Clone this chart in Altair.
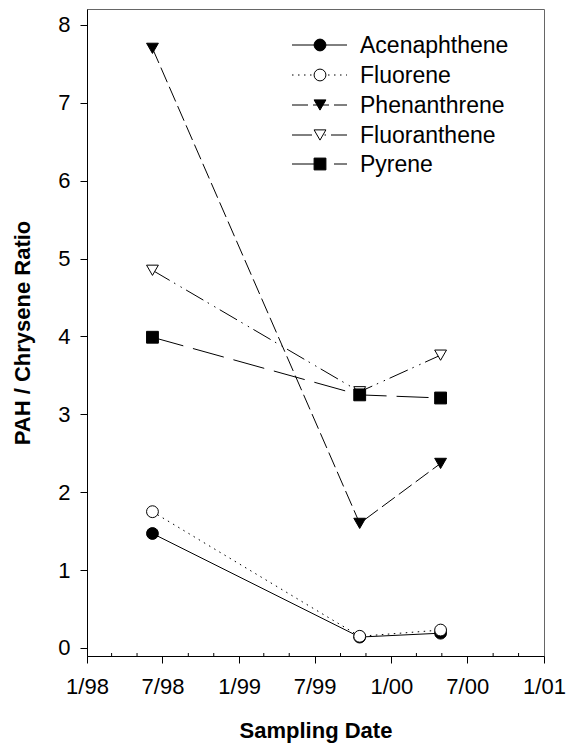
import altair as alt
import pandas as pd

# Sampling dates (x) and PAH / chrysene ratios per compound (y)
sample_dates = ["1998-06-07", "1999-10-17", "2000-04-28"]
acenaphthene = [1.47, 0.14, 0.19]
fluorene = [1.75, 0.15, 0.23]
phenanthrene = [7.70, 1.60, 2.37]
fluoranthene = [4.85, 3.29, 3.76]
pyrene = [3.99, 3.25, 3.21]

series_names = ["Acenaphthene", "Fluorene", "Phenanthrene", "Fluoranthene", "Pyrene"]
series_values = [acenaphthene, fluorene, phenanthrene, fluoranthene, pyrene]

# Axis tick labels
x_ticks = [(1998, 1), (1998, 7), (1999, 1), (1999, 7), (2000, 1), (2000, 7), (2001, 1)]
x_minor_ticks = ["1998-03-01", "1998-05-01", "1998-09-01", "1998-11-01",
                 "1999-03-01", "1999-05-01", "1999-09-01", "1999-11-01",
                 "2000-03-01", "2000-05-01", "2000-09-01", "2000-11-01"]
y_ticks = [0, 1, 2, 3, 4, 5, 6, 7, 8]

# Marker shape, fill and line dash per compound
styles = {
    "Acenaphthene": dict(shape="circle", fill="black", dash=None),
    "Fluorene": dict(shape="circle", fill="white", dash=[1.5, 4.5]),
    "Phenanthrene": dict(shape="triangle-down", fill="black", dash=[16, 5]),
    "Fluoranthene": dict(shape="triangle-down", fill="white", dash=[20, 5, 1.5, 6, 1.5, 5]),
    "Pyrene": dict(shape="square", fill="black", dash=[32, 10]),
}

FONT = "Liberation Sans"
W, H = 457, 647

x_scale = alt.Scale(
    type="utc",
    domain=[alt.DateTime(year=1998, month=1, date=1, utc=True),
            alt.DateTime(year=2001, month=1, date=1, utc=True)],
)
y_scale = alt.Scale(domain=[-0.103, 8.205], nice=False, zero=False)

x_enc = alt.X(
    "date:T",
    scale=x_scale,
    axis=alt.Axis(
        values=[alt.DateTime(year=y, month=m, date=1, utc=True) for y, m in x_ticks],
        labelExpr="utcFormat(datum.value, '%-m/%y')",
        title="Sampling Date",
        grid=False,
        labelFlush=False,
        labelOverlap=False,
        tickSize=7,
        labelPadding=13,
        titlePadding=23,
    ),
)
y_enc = alt.Y(
    "ratio:Q",
    scale=y_scale,
    axis=alt.Axis(
        values=y_ticks,
        title="PAH / Chrysene Ratio",
        grid=False,
        labelFlush=False,
        labelOverlap=False,
        tickSize=7,
        labelPadding=10,
        titlePadding=23,
    ),
)

layers = []

# Minor ticks along the date axis
minor = alt.Chart(pd.DataFrame({"date": x_minor_ticks})).mark_rule(
    color="black", strokeWidth=1
).encode(x=x_enc, y=alt.value(H - 3), y2=alt.value(H))
layers.append(minor)

for name, vals in zip(series_names, series_values):
    st = styles[name]
    df = pd.DataFrame({"date": sample_dates, "ratio": vals, "series": name})
    line_kw = dict(color="black", strokeWidth=1)
    if st["dash"]:
        line_kw["strokeDash"] = st["dash"]
    line = alt.Chart(df).mark_line(**line_kw).encode(x=x_enc, y=y_enc)
    pts = alt.Chart(df).mark_point(
        shape=st["shape"], fill=st["fill"], stroke="black", strokeWidth=1,
        size=140, opacity=1, fillOpacity=1,
    ).encode(x=x_enc, y=y_enc)
    layers += [line, pts]

# Legend drawn inside the plot, top right
leg_x0, leg_x1, leg_mark_x, leg_text_x = 205, 260, 233, 273
leg_rows = [36, 66, 96, 126, 155]
for name, ry in zip(series_names, leg_rows):
    st = styles[name]
    src = alt.Chart(pd.DataFrame({"series": [name]}))
    rule_kw = dict(color="black", strokeWidth=1)
    if st["dash"]:
        rule_kw["strokeDash"] = st["dash"]
    layers.append(src.mark_rule(**rule_kw).encode(
        x=alt.value(leg_x0), x2=alt.value(leg_x1), y=alt.value(ry)))
    layers.append(src.mark_point(
        shape=st["shape"], fill=st["fill"], stroke="black", strokeWidth=1,
        size=140, opacity=1, fillOpacity=1,
    ).encode(x=alt.value(leg_mark_x), y=alt.value(ry)))
    layers.append(src.mark_text(
        align="left", baseline="middle", font=FONT, fontSize=23, color="black",
    ).encode(x=alt.value(leg_text_x), y=alt.value(ry + 1), text="series:N"))

chart = alt.layer(*layers).properties(
    width=W,
    height=H,
    background="white",
    autosize=alt.AutoSizeParams(type="none"),
    padding={"left": 87, "top": 9, "right": 24, "bottom": 88},
).configure_view(
    stroke="#666", strokeWidth=1
).configure_axis(
    labelFont=FONT, titleFont=FONT, labelFontSize=22, titleFontSize=22,
    titleFontWeight="bold", labelColor="black", titleColor="black",
    domainColor="black", tickColor="black", domainWidth=1, tickWidth=1,
)

chart.save("out.html", embed_options={"renderer": "svg", "actions": False})
